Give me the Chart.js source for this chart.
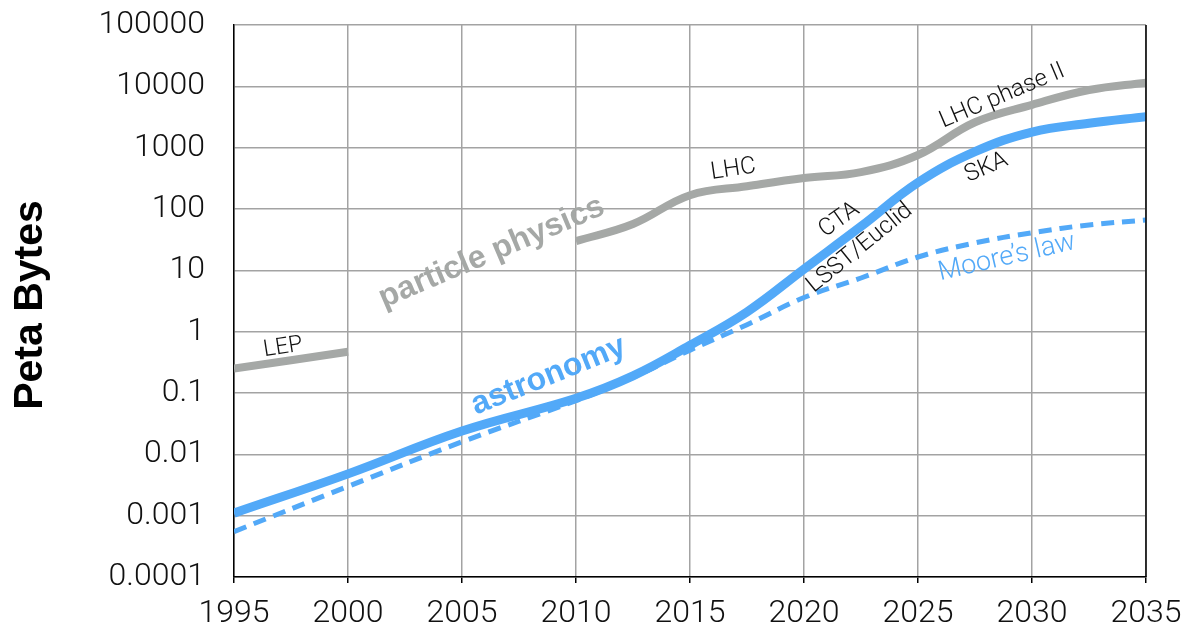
<!DOCTYPE html>
<html>
<head>
<meta charset="utf-8">
<script src="https://cdn.jsdelivr.net/npm/chart.js@4"></script>
<style>
  html, body { margin: 0; padding: 0; background: #fff; }
  #wrap { width: 1192px; height: 632px; position: relative; }
</style>
</head>
<body>
<div id="wrap"><canvas id="chart"></canvas></div>
<script>
// values (Peta Bytes, log scale)
const years = [1995, 2000, 2005, 2010, 2012.5, 2015, 2017.5, 2020, 2022.5, 2025, 2027.5, 2030, 2032.5, 2035];
const particlePhysics = [0.25, 0.47, null, 30, 57, 168, 235, 320, 400, 760, 2600, 5000, 8700, 11500];
const astronomy = [0.0011, 0.0048, 0.024, 0.082, 0.19, 0.6, 2.1, 10.5, 52, 270, 860, 1800, 2500, 3200];
const mooresLaw = [0.00055, 0.003, 0.016, 0.075, 0.18, 0.5, 1.3, 3.6, 7.5, 16.5, 28, 41, 55, 66];

const xTicks = [1995, 2000, 2005, 2010, 2015, 2020, 2025, 2030, 2035];
const yTicks = [0.0001, 0.001, 0.01, 0.1, 1, 10, 100, 1000, 10000, 100000];
const yTickLabels = ["0.0001", "0.001", "0.01", "0.1", "1", "10", "100", "1000", "10000", "100000"];

const GRAY = "#a5a8a6";
const BLUE = "#52a9f8";
const FONT = "Roboto, 'Liberation Sans', Arial, sans-serif";
const BOLD_FONT = "'Liberation Sans', Arial, sans-serif";

// text labels placed in data coordinates
const notes = [
  { text: "LEP", x: 1997.15, y: 0.55, angle: -9, size: 23, color: "#111" },
  { text: "particle physics", x: 2006.3, y: 19.5, angle: -23, size: 32, bold: true, color: GRAY },
  { text: "astronomy", x: 2008.8, y: 0.19, angle: -22, size: 32, bold: true, color: BLUE },
  { text: "LHC", x: 2016.9, y: 437, angle: -8.5, size: 24, color: "#111" },
  { text: "LHC phase II", x: 2028.7, y: 6900, angle: -23, size: 24, color: "#111" },
  { text: "SKA", x: 2028.0, y: 470, angle: -23, size: 24, color: "#111" },
  { text: "CTA", x: 2021.55, y: 66, angle: -35, size: 24, color: "#111" },
  { text: "LSST/Euclid", x: 2022.45, y: 23, angle: -39, size: 24, color: "#111" },
  { text: "Moore\u2019s law", x: 2028.9, y: 16, angle: -13, size: 27, color: BLUE }
];

function toPoints(values) {
  return years.map((year, i) => ({ x: year, y: values[i] }));
}

const notesPlugin = {
  id: "notes",
  afterDatasetsDraw(chart) {
    const { ctx, scales: { x, y } } = chart;
    notes.forEach((n) => {
      ctx.save();
      ctx.translate(x.getPixelForValue(n.x), y.getPixelForValue(n.y));
      ctx.rotate(n.angle * Math.PI / 180);
      ctx.font = n.bold ? `bold ${n.size}px ${BOLD_FONT}` : `300 ${n.size}px ${FONT}`;
      ctx.fillStyle = n.color;
      ctx.textAlign = "center";
      ctx.textBaseline = "middle";
      ctx.fillText(n.text, 0, 0);
      ctx.restore();
    });
  },
  afterDraw(chart) {
    const { ctx, chartArea: a } = chart;
    ctx.save();
    ctx.strokeStyle = "#000";
    ctx.lineWidth = 1.5;
    ctx.beginPath();
    ctx.moveTo(a.right, a.top);
    ctx.lineTo(a.right, a.bottom);
    ctx.stroke();
    // y axis title
    ctx.translate(42, 305);
    ctx.rotate(-Math.PI / 2);
    ctx.font = `bold 41px ${BOLD_FONT}`;
    ctx.fillStyle = "#000";
    ctx.textAlign = "center";
    ctx.textBaseline = "alphabetic";
    ctx.fillText("Peta Bytes", 0, 0);
    ctx.restore();
  }
};

new Chart(document.getElementById("chart"), {
  type: "line",
  data: {
    datasets: [
      { label: "astronomy", data: toPoints(astronomy), borderColor: BLUE, borderWidth: 9, order: 1 },
      { label: "Moore's law", data: toPoints(mooresLaw), borderColor: BLUE, borderWidth: 5, borderDash: [13, 8], order: 2 },
      { label: "particle physics", data: toPoints(particlePhysics), borderColor: GRAY, borderWidth: 8, spanGaps: false, order: 3 }
    ]
  },
  options: {
    responsive: true,
    maintainAspectRatio: false,
    animation: false,
    layout: { padding: { top: 25, right: 46, left: 0, bottom: 0 } },
    elements: {
      point: { radius: 0, hoverRadius: 0 },
      line: { tension: 0.4, fill: false, borderCapStyle: "butt" }
    },
    plugins: { legend: { display: false }, tooltip: { enabled: false } },
    scales: {
      x: {
        type: "linear",
        min: 1995,
        max: 2035,
        afterBuildTicks: (s) => { s.ticks = xTicks.map((v) => ({ value: v })); },
        afterFit: (s) => { s.height = 55; s.paddingLeft = 0; s.paddingRight = 0; },
        ticks: { color: "#111", font: { family: FONT, size: 32, weight: 300 }, padding: 12, maxRotation: 0, callback: (v) => String(v) },
        grid: { color: "#a3a3a3", lineWidth: 1.5, tickLength: 6, tickColor: "#000", tickWidth: 1.5 },
        border: { color: "#000", width: 1.5 }
      },
      y: {
        type: "logarithmic",
        min: 0.0001,
        max: 100000,
        afterBuildTicks: (s) => { s.ticks = yTicks.map((v) => ({ value: v })); },
        afterFit: (s) => { s.width = 234; s.paddingTop = 0; s.paddingBottom = 0; },
        ticks: {
          color: "#111",
          font: { family: FONT, size: 32, weight: 300 },
          padding: 29,
          callback: (v) => yTickLabels[yTicks.indexOf(v)] ?? ""
        },
        grid: { color: "#a3a3a3", lineWidth: 1.5, drawTicks: false },
        border: { color: "#000", width: 1.5 }
      }
    }
  },
  plugins: [notesPlugin]
});
</script>
</body>
</html>
